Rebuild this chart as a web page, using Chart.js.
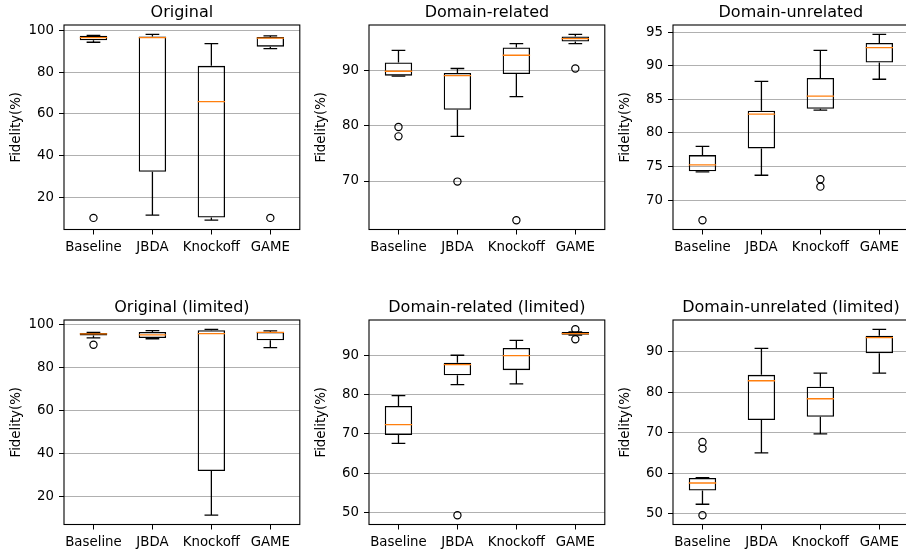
<!DOCTYPE html>
<html><head><meta charset="utf-8">
<script src="https://cdn.jsdelivr.net/npm/chart.js@4.4.1/dist/chart.umd.min.js"></script>
<style>
html,body{margin:0;padding:0;background:#fff;width:906px;height:553px;overflow:hidden;position:relative}
canvas{position:absolute}
</style></head><body>
<script>
const categories = ['Baseline', 'JBDA', 'Knockoff', 'GAME'];
const yAxisLabel = 'Fidelity(%)';

// each row: [lower whisker, Q1, median, Q3, upper whisker]
const original = [[94.3, 95.2, 96.5, 97.4, 97.6], [11.6, 32.4, 96.5, 97.1, 98.1], [9.2, 10.5, 65.9, 83.0, 93.6], [91.2, 92.2, 96.3, 96.8, 97.3]];
const originalOutliers = [[10.3], [], [], [10.3]];
const originalTicks = [20, 40, 60, 80, 100];

const domainRelated = [[89.0, 89.1, 89.9, 91.5, 93.7], [78.1, 82.9, 89.1, 89.6, 90.4], [85.3, 89.4, 92.8, 94.2, 94.9], [94.9, 95.3, 95.8, 96.2, 96.6]];
const domainRelatedOutliers = [[79.8, 78.1], [69.9], [62.9], [90.4]];
const domainRelatedTicks = [70, 80, 90];

const domainUnrelated = [[74.2, 74.3, 75.25, 76.7, 78.0], [73.7, 77.7, 82.8, 83.3, 87.7], [83.4, 83.6, 85.5, 88.2, 92.3], [88.0, 90.5, 92.7, 93.4, 94.7]];
const domainUnrelatedOutliers = [[67.0], [], [73.1, 72.0], []];
const domainUnrelatedTicks = [70, 75, 80, 85, 90, 95];

const originalLimited = [[93.8, 94.9, 95.7, 96.1, 96.4], [93.4, 93.7, 95.2, 96.6, 97.2], [11.35, 31.9, 95.8, 97.4, 97.8], [89.3, 92.7, 96.4, 96.6, 97.1]];
const originalLimitedOutliers = [[90.6], [], [], []];
const originalLimitedTicks = [20, 40, 60, 80, 100];

const domainRelatedLimited = [[67.6, 69.7, 72.35, 77.1, 79.7], [82.5, 84.9, 87.6, 88.1, 90.0], [82.7, 86.2, 89.9, 91.85, 93.8], [95.1, 95.2, 95.5, 95.9, 95.95]];
const domainRelatedLimitedOutliers = [[], [49.3], [], [96.6, 94.05]];
const domainRelatedLimitedTicks = [50, 60, 70, 80, 90];

const domainUnrelatedLimited = [[52.3, 55.7, 57.55, 58.8, 58.9], [65.0, 73.1, 82.8, 84.25, 90.8], [69.7, 73.9, 78.35, 81.3, 84.7], [84.7, 89.6, 93.45, 93.9, 95.5]];
const domainUnrelatedLimitedOutliers = [[67.7, 66.05, 49.6], [], [], []];
const domainUnrelatedLimitedTicks = [50, 60, 70, 80, 90];

const panels = [
  {title: 'Original', stats: original, outliers: originalOutliers, ticks: originalTicks},
  {title: 'Domain-related', stats: domainRelated, outliers: domainRelatedOutliers, ticks: domainRelatedTicks},
  {title: 'Domain-unrelated', stats: domainUnrelated, outliers: domainUnrelatedOutliers, ticks: domainUnrelatedTicks},
  {title: 'Original (limited)', stats: originalLimited, outliers: originalLimitedOutliers, ticks: originalLimitedTicks},
  {title: 'Domain-related (limited)', stats: domainRelatedLimited, outliers: domainRelatedLimitedOutliers, ticks: domainRelatedLimitedTicks},
  {title: 'Domain-unrelated (limited)', stats: domainUnrelatedLimited, outliers: domainUnrelatedLimitedOutliers, ticks: domainUnrelatedLimitedTicks}
];

const FONT = 'DejaVu Sans';
const colLeft = [64, 369, 673];
const rowTop = [25, 320];
const CW = 305, CH = 260;

const boxPlugin = {
  id: 'boxParts',
  afterDatasetsDraw(chart) {
    const stats = chart.options.plugins.boxParts.stats;
    const xs = chart.scales.x, ys = chart.scales.y;
    const ctx = chart.ctx;
    const meta = chart.getDatasetMeta(0);
    ctx.save();
    ctx.beginPath();
    ctx.rect(chart.chartArea.left, chart.chartArea.top, chart.chartArea.width, chart.chartArea.height);
    ctx.clip();
    stats.forEach((s, i) => {
      const x = xs.getPixelForValue(i);
      const w = meta.data[i].width;
      const cap = w / 4;
      const [lo, q1, med, q3, hi] = s.map(v => ys.getPixelForValue(v));
      ctx.strokeStyle = '#000';
      ctx.lineWidth = 1.3;
      ctx.beginPath();
      ctx.moveTo(x, q1); ctx.lineTo(x, lo);
      ctx.moveTo(x, q3); ctx.lineTo(x, hi);
      ctx.moveTo(x - cap, lo); ctx.lineTo(x + cap, lo);
      ctx.moveTo(x - cap, hi); ctx.lineTo(x + cap, hi);
      ctx.stroke();
      ctx.strokeStyle = '#ff7f0e';
      ctx.beginPath();
      ctx.moveTo(x - w / 2, med); ctx.lineTo(x + w / 2, med);
      ctx.stroke();
    });
    ctx.restore();
  },
  afterDraw(chart) {
    const a = chart.chartArea, ctx = chart.ctx;
    ctx.save();
    ctx.strokeStyle = '#000';
    ctx.lineWidth = 1.1;
    ctx.strokeRect(a.left, a.top, a.right - a.left, a.bottom - a.top);
    ctx.restore();
  }
};

panels.forEach((p, idx) => {
  const col = idx % 3, row = Math.floor(idx / 3);
  const cv = document.createElement('canvas');
  cv.width = CW; cv.height = CH;
  cv.style.left = (colLeft[col] - 64) + 'px';
  cv.style.top = (rowTop[row] - 25) + 'px';
  cv.style.width = CW + 'px'; cv.style.height = CH + 'px';
  document.body.appendChild(cv);

  let dmin = Infinity, dmax = -Infinity;
  p.stats.forEach((s, i) => {
    dmin = Math.min(dmin, s[0], ...p.outliers[i]);
    dmax = Math.max(dmax, s[4], ...p.outliers[i]);
  });
  const m = (dmax - dmin) * 0.05;

  const outlierPts = [];
  p.outliers.forEach((arr, i) => arr.forEach(v => outlierPts.push({x: categories[i], y: v})));

  new Chart(cv.getContext('2d'), {
    type: 'bar',
    data: {
      labels: categories,
      datasets: [
        {type: 'bar', data: p.stats.map(s => [s[1], s[3]]), backgroundColor: 'rgba(0,0,0,0)', borderColor: '#000',
         borderWidth: 1.3, borderSkipped: false, barPercentage: 0.465, categoryPercentage: 1, order: 2},
        {type: 'scatter', data: outlierPts, pointStyle: 'circle', pointRadius: 3.6, pointBorderWidth: 1.2,
         pointBorderColor: '#000', pointBackgroundColor: 'rgba(0,0,0,0)', order: 1}
      ]
    },
    options: {
      responsive: false, animation: false, devicePixelRatio: 1,
      layout: {padding: {left: 0, right: 1.5, top: 0, bottom: 0}},
      plugins: {
        legend: {display: false}, tooltip: {enabled: false},
        title: {display: true, text: p.title, fullSize: false, color: '#000',
                font: {family: FONT, size: 16, weight: 'normal'}, padding: {top: 3, bottom: 2.8}},
        boxParts: {stats: p.stats}
      },
      scales: {
        x: {
          type: 'category', offset: true,
          grid: {offset: false, drawOnChartArea: false, tickColor: '#000', tickLength: 5, tickWidth: 1},
          border: {display: false},
          ticks: {font: {family: FONT, size: 13.33}, color: '#000', padding: 5, maxRotation: 0, autoSkip: false},
          afterFit(s) { s.height = 30.5; }
        },
        y: {
          type: 'linear', min: dmin - m, max: dmax + m,
          grid: {color: '#b0b0b0', lineWidth: 1, tickColor: '#000', tickLength: 5, tickWidth: 1},
          border: {display: false},
          ticks: {font: {family: FONT, size: 13.33}, color: '#000', padding: 5},
          afterBuildTicks(s) { s.ticks = p.ticks.map(v => ({value: v})); },
          afterFit(s) { s.width = 64; },
          title: {display: true, text: yAxisLabel, color: '#000', font: {family: FONT, size: 13.33}, padding: {top: 9, bottom: 0}}
        }
      }
    },
    plugins: [boxPlugin]
  });
});
</script>
</body></html>
